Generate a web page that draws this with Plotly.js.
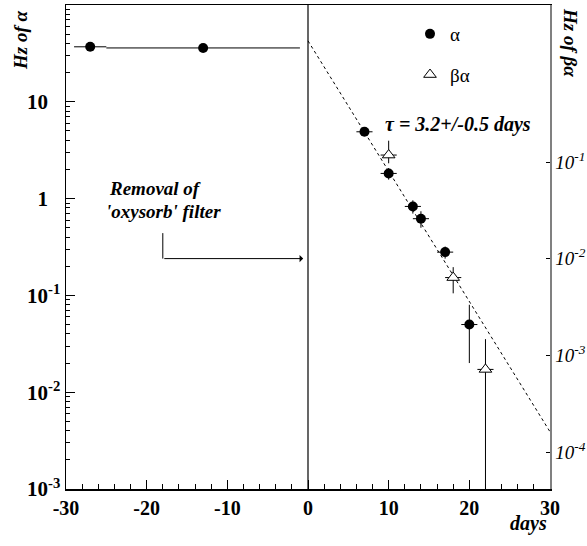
<!DOCTYPE html>
<html><head><meta charset="utf-8">
<script src="https://cdn.plot.ly/plotly-3.0.1.min.js"></script>
<style>html,body{margin:0;padding:0;background:#fff}</style>
</head><body><div id="chart" style="width:587px;height:546px"></div>
<script>
// ---- data ----
const alphaX = [-27, -13, 7, 10, 13, 14, 17, 20];
const alphaY = [37, 36, 4.9, 1.82, 0.83, 0.62, 0.28, 0.050];
const alphaXErr = [2, 12, 1, 1, 1, 1, 1, 1];
const alphaYErr = [0, 0, 0.4, 0.25, 0.13, 0.12, 0.04, 0.03];

const betaX = [10, 18, 22];
const betaY = [0.118, 0.0064, 0.00072];
const betaXErr = [1, 1, 1];
const betaYErrPlus = [0.048, 0.0018, 0.00076];
const betaYErrMinus = [0.021, 0.0020, 0.000719];

const fitX = [0, 30];
const fitY = [42.6, 0.0039];

const arrowX = [-18, -18];
const arrowY = [0.44, 0.24];
const arrowEndX = -0.6;

const xTickVals = [-30, -20, -10, 0, 10, 20, 30];
const xTickText = ['-30', '-20', '-10', '0', '10', '20', '30'];
const leftTickVals = [0.001, 0.01, 0.1, 1, 10];
const ghost = "<span style='color:rgba(0,0,0,0)'><sup>-1</sup></span>";
const leftTickText = ['10<sup>-3</sup>', '10<sup>-2</sup>', '10<sup>-1</sup>', '1' + ghost, '10' + ghost];
const rightTickVals = [0.0001, 0.001, 0.01, 0.1];
const rightTickText = ['10<sup>-4</sup>', '10<sup>-3</sup>', '10<sup>-2</sup>', '10<sup>-1</sup>'];

// ---- layout helpers ----
const L = 66, T = 5, W = 484, H = 484;
const px = x => (x - L) / W;
const py = y => (T + H - y) / H;
const SERIF = 'Liberation Serif';
const bi = (size) => ({family: SERIF, size: size, color: '#000', weight: 'bold', style: 'italic'});
const note = (x, y, text, font, extra) => Object.assign({
  xref: 'paper', yref: 'paper', x: px(x), y: py(y), text: text, showarrow: false,
  xanchor: 'center', yanchor: 'middle', font: font
}, extra || {});

const traces = [
  {
    x: fitX, y: fitY, mode: 'lines', type: 'scatter', showlegend: false, hoverinfo: 'skip',
    line: {color: '#000', width: 1, dash: '3px,3px'}
  },
  {
    x: arrowX, y: arrowY, mode: 'lines', type: 'scatter', showlegend: false, hoverinfo: 'skip',
    line: {color: '#000', width: 1}
  },
  {
    name: 'α', x: alphaX, y: alphaY, mode: 'markers', type: 'scatter', legendgroup: 'a',
    marker: {symbol: 'circle', size: 10, color: '#000'},
    error_x: {type: 'data', array: alphaXErr, color: '#000', thickness: 1, width: 0},
    error_y: {type: 'data', array: alphaYErr, color: '#000', thickness: 1, width: 0}
  },
  {
    name: 'βα', x: betaX, y: betaY, mode: 'markers', type: 'scatter', yaxis: 'y2', legendgroup: 'b',
    marker: {symbol: 'triangle-up', size: 11, color: '#fff', line: {color: '#000', width: 1}},
    error_x: {type: 'data', array: betaXErr, color: '#000', thickness: 1, width: 0},
    error_y: {type: 'data', symmetric: false, array: betaYErrPlus, arrayminus: betaYErrMinus, color: '#000', thickness: 1, width: 0}
  }
];

const layout = {
  width: 587, height: 546,
  margin: {l: L, r: 587 - L - W, t: T, b: 546 - T - H},
  paper_bgcolor: '#fff', plot_bgcolor: '#fff',
  showlegend: true,
  legend: {
    x: px(410), y: py(15), xanchor: 'left', yanchor: 'top',
    bgcolor: 'rgba(0,0,0,0)', borderwidth: 0,
    font: {family: SERIF, size: 19, color: '#000'},
    traceorder: 'grouped', tracegroupgap: 13
  },
  xaxis: {
    range: [-30, 30], tickmode: 'array', tickvals: xTickVals, ticktext: xTickText,
    ticks: 'inside', ticklen: 9, tickwidth: 1, tickcolor: '#000',
    minor: {tickmode: 'linear', tick0: -30, dtick: 2, ticks: 'inside', ticklen: 5, tickwidth: 1, tickcolor: '#000', showgrid: false},
    showline: true, linecolor: '#000', linewidth: 1.5, mirror: true,
    showgrid: false, zeroline: false,
    tickfont: {family: SERIF, size: 20, color: '#000', weight: 'bold'}
  },
  yaxis: {
    type: 'log', range: [-3, 2], tickmode: 'array', tickvals: leftTickVals, ticktext: leftTickText,
    ticks: 'inside', ticklen: 9, tickwidth: 1, tickcolor: '#000',
    minor: {tickmode: 'linear', dtick: 'D1', ticks: 'inside', ticklen: 4, tickwidth: 1, tickcolor: '#000', showgrid: false},
    showline: true, linecolor: '#000', linewidth: 1.5,
    showgrid: false, zeroline: false,
    tickfont: {family: SERIF, size: 21, color: '#000', weight: 'bold'}
  },
  yaxis2: {
    type: 'log', overlaying: 'y', side: 'right', range: [-4.378, 0.622],
    tickmode: 'array', tickvals: rightTickVals, ticktext: rightTickText,
    ticks: 'inside', ticklen: 4, tickwidth: 1, tickcolor: '#000',
    showline: true, linecolor: '#808080', linewidth: 1.5,
    showgrid: false, zeroline: false,
    tickfont: {family: SERIF, size: 19, color: '#000', style: 'italic'}
  },
  shapes: [
    {type: 'line', xref: 'x', yref: 'paper', x0: 0, x1: 0, y0: 0, y1: 1, line: {color: '#000', width: 1.2}}
  ],
  annotations: [
    {xref: 'x', yref: 'y', x: arrowEndX, y: Math.log10(arrowY[1]), axref: 'x', ayref: 'y',
     ax: arrowX[1], ay: Math.log10(arrowY[1]), showarrow: true, arrowhead: 1, arrowsize: 1.2, arrowwidth: 1, arrowcolor: '#000', text: ''},
    note(458, 125, 'τ = 3.2+/-0.5 days', bi(20)),
    note(107, 188, 'Removal of', bi(19), {xanchor: 'left'}),
    note(104, 211, "'oxysorb' filter", bi(19), {xanchor: 'left'}),
    note(528, 523, 'days', bi(20)),
    note(20, 40, 'Hz of α', bi(19), {textangle: -90}),
    note(571, 42, 'Hz of βα', bi(19), {textangle: 90})
  ]
};

Plotly.newPlot('chart', traces, layout, {displayModeBar: false, staticPlot: true});
</script>
</body></html>
